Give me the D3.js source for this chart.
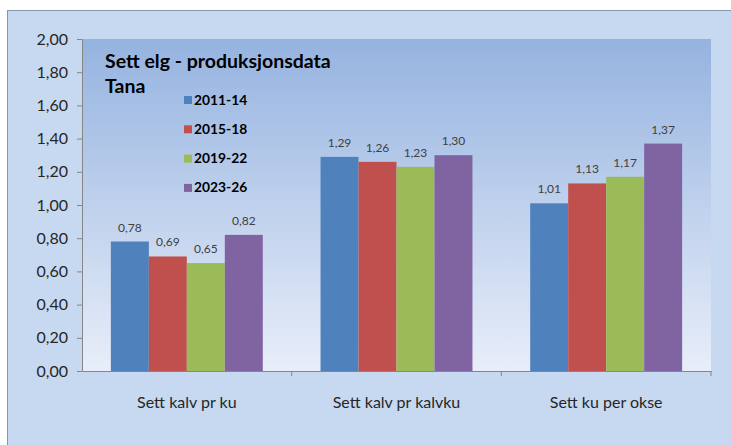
<!DOCTYPE html>
<html>
<head>
<meta charset="utf-8">
<script src="https://cdn.jsdelivr.net/npm/d3@7"></script>
<style>
  body { margin: 0; background: #fff; }
  text { font-family: Lato, sans-serif; }
</style>
</head>
<body>
<script>
// data
const categories = ["Sett kalv pr ku", "Sett kalv pr kalvku", "Sett ku per okse"];
const periods = ["2011-14", "2015-18", "2019-22", "2023-26"];
const values = {
    "2011-14": [0.78, 1.29, 1.01],
    "2015-18": [0.69, 1.26, 1.13],
    "2019-22": [0.65, 1.23, 1.17],
    "2023-26": [0.82, 1.30, 1.37]
};
const yTicks = [0, 0.2, 0.4, 0.6, 0.8, 1.0, 1.2, 1.4, 1.6, 1.8, 2.0];
const colors = ["#4f81bd", "#c0504d", "#9bbb59", "#8064a2"];

const width = 731, height = 445;
const plot = {left: 82, top: 39, right: 711, bottom: 371};
const fmt = v => d3.format(".2f")(v).replace(".", ",");

const svg = d3.select("body").append("svg")
    .attr("width", width)
    .attr("height", height);

// gradient for plot area
const defs = svg.append("defs");
const grad = defs.append("linearGradient")
    .attr("id", "plotgrad")
    .attr("x1", 0).attr("y1", 0).attr("x2", 0).attr("y2", 1);
grad.append("stop").attr("offset", "0%").attr("stop-color", "#95b3e0");
grad.append("stop").attr("offset", "100%").attr("stop-color", "#e8eef9");

// outer chart area
svg.append("rect")
    .attr("x", 7.5).attr("y", 10.5)
    .attr("width", width).attr("height", height)
    .attr("fill", "#c6d9f0")
    .attr("stroke", "#8497b0");

svg.append("rect")
    .attr("x", plot.left).attr("y", plot.top)
    .attr("width", plot.right - plot.left).attr("height", plot.bottom - plot.top)
    .attr("fill", "url(#plotgrad)");

// scales
const x0 = d3.scaleBand().domain(categories).range([plot.left, plot.right]).paddingInner(0).paddingOuter(0);
const x1 = d3.scaleBand().domain(periods).range([0, x0.bandwidth()]).paddingOuter(0.76).paddingInner(0);
const y = d3.scaleLinear().domain([0, 2]).range([plot.bottom, plot.top]);

// bars
const groups = svg.append("g").selectAll("g")
    .data(categories)
    .join("g")
    .attr("transform", d => `translate(${x0(d)},0)`);

periods.forEach((p, pi) => {
    groups.append("rect")
        .attr("x", x1(p))
        .attr("y", (d, i) => y(values[p][i]))
        .attr("width", x1.bandwidth())
        .attr("height", (d, i) => y(0) - y(values[p][i]))
        .attr("fill", colors[pi]);
    groups.append("text")
        .attr("x", x1(p) + x1.bandwidth() / 2)
        .attr("y", (d, i) => y(values[p][i]) - 10)
        .attr("text-anchor", "middle")
        .attr("font-size", 12)
        .attr("fill", "#404040")
        .text((d, i) => fmt(values[p][i]));
});

// y axis
const yAxis = d3.axisLeft(y).tickValues(yTicks).tickFormat(fmt).tickSize(5).tickSizeOuter(0);
svg.append("g")
    .attr("transform", `translate(${plot.left},0)`)
    .call(yAxis)
    .call(g => g.select(".domain").attr("stroke", "#868686"))
    .call(g => g.selectAll(".tick line").attr("stroke", "#868686"))
    .call(g => g.selectAll(".tick text")
        .attr("x", -14)
        .attr("font-size", 16)
        .attr("font-family", "Lato, sans-serif")
        .attr("fill", "#262626"));

// x axis
const xAxis = d3.axisBottom(x0).tickSize(0).tickSizeOuter(0);
svg.append("g")
    .attr("transform", `translate(0,${plot.bottom})`)
    .call(xAxis)
    .call(g => g.select(".domain").attr("stroke", "#868686"))
    .call(g => g.selectAll(".tick text")
        .attr("dy", 0)
        .attr("y", 37)
        .attr("font-size", 16)
        .attr("font-family", "Lato, sans-serif")
        .attr("fill", "#262626"));

// category separators
svg.append("g").selectAll("line")
    .data(categories)
    .join("line")
    .attr("x1", d => x0(d) + x0.bandwidth())
    .attr("x2", d => x0(d) + x0.bandwidth())
    .attr("y1", plot.bottom)
    .attr("y2", plot.bottom + 5)
    .attr("stroke", "#868686");

// title
svg.append("text")
    .attr("x", 105).attr("y", 68)
    .attr("font-size", 19.5)
    .attr("font-weight", "bold")
    .attr("fill", "#000")
    .text("Sett elg - produksjonsdata");
svg.append("text")
    .attr("x", 105).attr("y", 93)
    .attr("font-size", 19.5)
    .attr("font-weight", "bold")
    .attr("fill", "#000")
    .text("Tana");

// legend
const legend = svg.append("g").selectAll("g")
    .data(periods)
    .join("g")
    .attr("transform", (d, i) => `translate(184,${100 + i * 29.3})`);
legend.append("rect")
    .attr("x", 0).attr("y", -4)
    .attr("width", 8).attr("height", 8)
    .attr("fill", (d, i) => colors[i]);
legend.append("text")
    .attr("x", 10).attr("y", 4.5)
    .attr("font-size", 13.8)
    .attr("font-weight", "bold")
    .attr("fill", "#000")
    .text(d => d);
</script>
</body>
</html>
